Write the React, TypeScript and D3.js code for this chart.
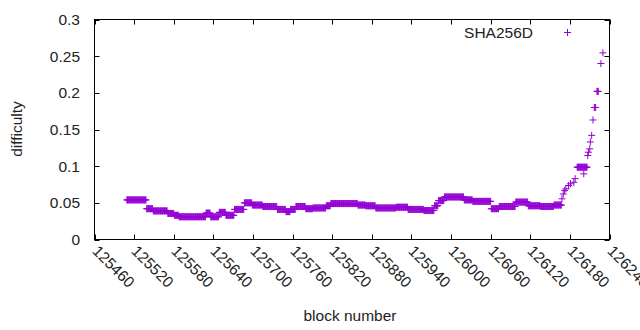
import React from 'react';
import * as d3 from 'd3';

// difficulty runs: first block, last block, difficulty
const runStart = [
  125509, 125539, 125549, 125571, 125581, 125588, 125629, 125636, 125649, 125659,
  125672, 125687, 125699, 125715, 125737, 125750, 125757, 125765, 125780, 125791,
  125811, 125818, 125859, 125871, 125886, 125917, 125935, 125959, 125975, 125981,
  125990, 126020, 126033, 126061, 126073, 126098, 126117, 126136, 126156, 126168,
  126170, 126172, 126174, 126178, 126181, 126186, 126188, 126191, 126201, 126207,
  126208, 126210, 126211, 126213, 126215, 126217, 126221, 126227, 126230
];
const runEnd = [
  125538, 125548, 125570, 125580, 125587, 125628, 125635, 125648, 125658, 125671,
  125686, 125698, 125714, 125736, 125749, 125756, 125764, 125779, 125790, 125810,
  125817, 125858, 125870, 125885, 125916, 125934, 125958, 125974, 125980, 125989,
  126019, 126032, 126060, 126072, 126097, 126116, 126135, 126155, 126167, 126168,
  126170, 126172, 126174, 126178, 126181, 126186, 126188, 126206, 126201, 126207,
  126208, 126210, 126211, 126213, 126215, 126219, 126223, 126227, 126230
];
const runDifficulty = [
  0.054, 0.042, 0.039, 0.0355, 0.033, 0.031, 0.036, 0.031, 0.037, 0.033,
  0.041, 0.05, 0.047, 0.045, 0.041, 0.038, 0.041, 0.045, 0.042, 0.043,
  0.046, 0.049, 0.047, 0.046, 0.043, 0.044, 0.041, 0.0395, 0.046, 0.053,
  0.058, 0.054, 0.052, 0.042, 0.045, 0.051, 0.046, 0.045, 0.047, 0.0555,
  0.062, 0.067, 0.069, 0.0736, 0.076, 0.078, 0.083, 0.0986, 0.0895, 0.1145,
  0.119, 0.1236, 0.133, 0.142, 0.163, 0.18, 0.202, 0.24, 0.2545
];

const xTicks = [
  125460, 125520, 125580, 125640, 125700, 125760, 125820,
  125880, 125940, 126000, 126060, 126120, 126180, 126240
];
const yTicks = [0, 0.05, 0.1, 0.15, 0.2, 0.25, 0.3];
const seriesName = 'SHA256D';

const width = 640;
const height = 330;
const color = '#9400d3';
const font = '"Liberation Sans", Arial, sans-serif';
const fontSize = 15.5;

// one point per block
const points: { block: number; value: number }[] = [];
runStart.forEach((s, i) => {
  for (let b = s; b <= runEnd[i]; b++) points.push({ block: b, value: runDifficulty[i] });
});

const Plus: React.FC<{ x: number; y: number }> = ({ x, y }) => (
  <path d={`M${x - 3.5},${y}H${x + 3.5}M${x},${y - 3.5}V${y + 3.5}`} stroke={color} strokeWidth={1} />
);

const App: React.FC = () => {
  const x = d3.scaleLinear().domain([125460, 126240]).range([94.5, 609.5]);
  const y = d3.scaleLinear().domain([0, 0.3]).range([239.5, 19.5]);
  const [x0, x1] = x.range();
  const [y0, y1] = y.range();
  const tickLen = 5;

  return (
    <svg width={width} height={height} style={{ position: 'absolute', left: 0, top: 0, background: '#fff' }}
      fontFamily={font} fontSize={fontSize}>
      <rect width={width} height={height} fill="#fff" />

      {/* y ticks */}
      {yTicks.map(t => (
        <g key={'y' + t}>
          <line x1={x0} x2={x0 + tickLen} y1={Math.round(y(t)) + 0.5} y2={Math.round(y(t)) + 0.5} stroke="#000" />
          <line x1={x1} x2={x1 - tickLen} y1={Math.round(y(t)) + 0.5} y2={Math.round(y(t)) + 0.5} stroke="#000" />
          <text x={80} y={y(t) + 5.5} textAnchor="end" fill="#222">{t}</text>
        </g>
      ))}

      {/* x ticks */}
      {xTicks.map(t => {
        const px = Math.round(x(t)) + 0.5;
        return (
          <g key={'x' + t}>
            <line x1={px} x2={px} y1={y0} y2={y0 - tickLen} stroke="#000" />
            <line x1={px} x2={px} y1={y1} y2={y1 + tickLen} stroke="#000" />
            <text x={px - 4} y={252} transform={`rotate(45, ${px - 4}, 252)`} fill="#222">{t}</text>
          </g>
        );
      })}

      {/* frame */}
      <rect x={x0} y={y1} width={x1 - x0} height={y0 - y1} fill="none" stroke="#000" />

      {/* points */}
      {points.map((p, i) => (
        <Plus key={i} x={x(p.block)} y={y(p.value)} />
      ))}

      {/* legend */}
      <text x={533} y={38} textAnchor="end" fill="#222">{seriesName}</text>
      <Plus x={567.5} y={32.5} />

      {/* axis labels */}
      <text x={350} y={321} textAnchor="middle" fill="#222">block number</text>
      <text transform={`translate(22, 129) rotate(-90)`} textAnchor="middle" fill="#222">difficulty</text>
    </svg>
  );
};

export default App;
